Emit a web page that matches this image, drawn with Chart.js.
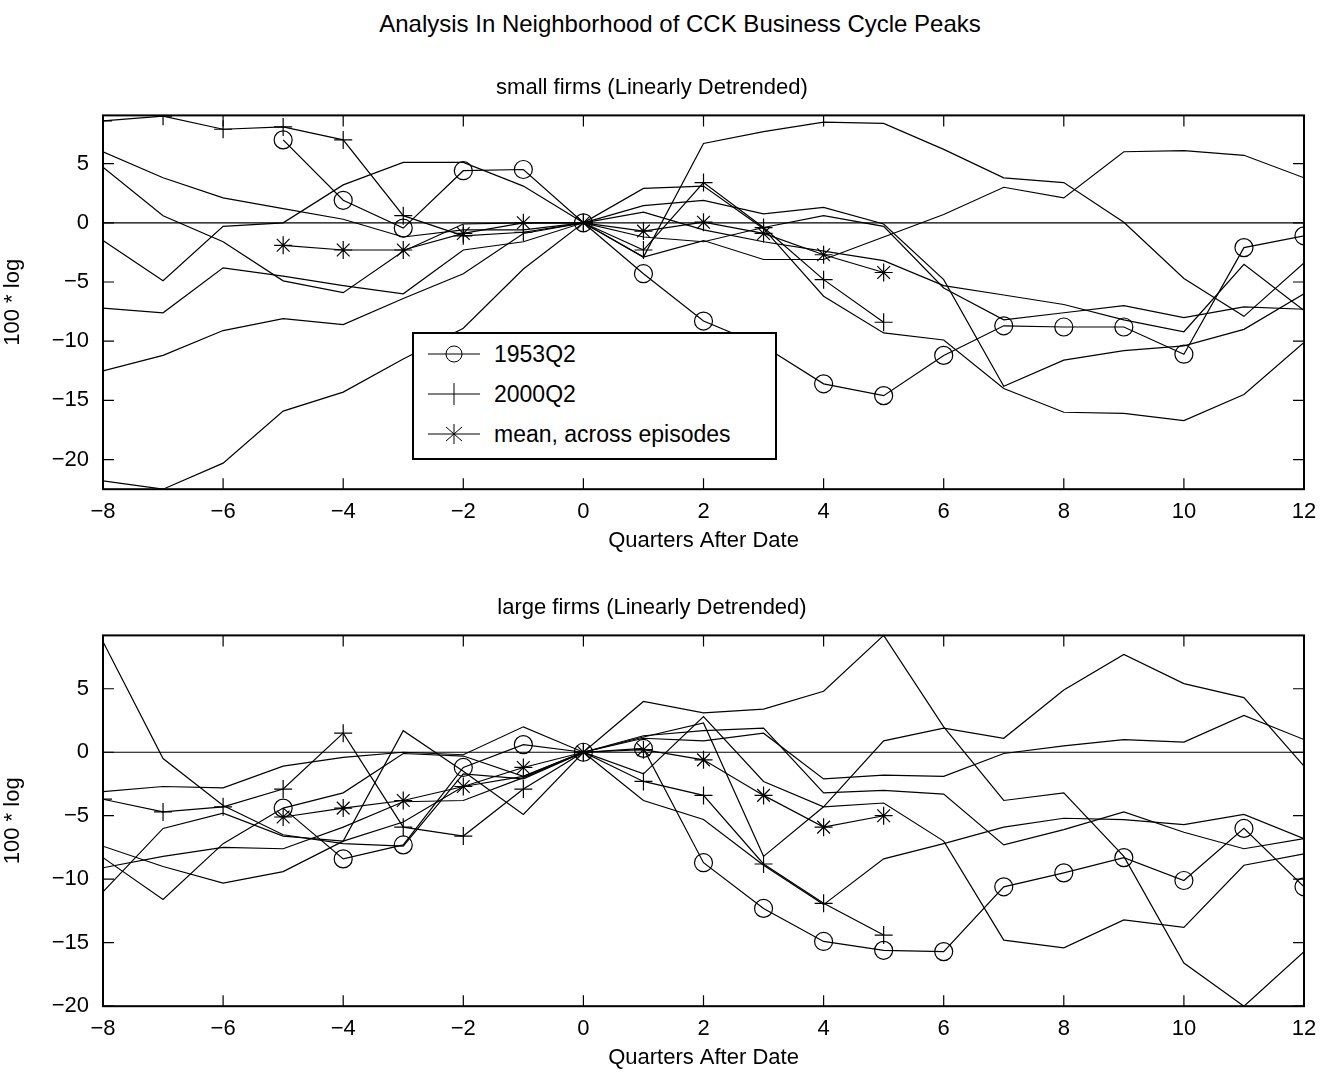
<!DOCTYPE html>
<html><head><meta charset="utf-8">
<script src="https://cdn.jsdelivr.net/npm/chart.js@4"></script>
<style>
body{margin:0;background:#fff;font-family:"Liberation Sans",Arial,sans-serif;}
#title{position:absolute;left:0;top:10px;width:1360px;text-align:center;font-size:24px;}
.cw{position:absolute;left:0;width:1326px;}
.legend{position:absolute;left:412px;top:332px;width:361px;height:124px;border:2px solid #000;background:#fff;font-size:23px;}
.legend div{height:40px;line-height:40px;display:flex;align-items:center;}
</style></head><body>
<div id="title">Analysis In Neighborhood of CCK Business Cycle Peaks</div>
<div class="cw" style="top:71px;height:483px"><canvas id="c1"></canvas></div>
<div class="cw" style="top:591px;height:480px"><canvas id="c2"></canvas></div>
<div class="legend">
 <div><svg width="80" height="30"><line x1="14" y1="15" x2="66" y2="15" stroke="#000"/><circle cx="40" cy="15" r="8" fill="none" stroke="#000"/></svg>1953Q2</div>
 <div><svg width="80" height="30"><line x1="14" y1="15" x2="66" y2="15" stroke="#000"/><line x1="40" y1="4" x2="40" y2="26" stroke="#000"/></svg>2000Q2</div>
 <div><svg width="80" height="30"><line x1="14" y1="15" x2="66" y2="15" stroke="#000"/><line x1="40" y1="5" x2="40" y2="25" stroke="#000"/><line x1="32" y1="8" x2="48" y2="22" stroke="#000"/><line x1="48" y1="8" x2="32" y2="22" stroke="#000"/></svg>mean, across episodes</div>
</div>
<script>
const quarters=[-8,-7,-6,-5,-4,-3,-2,-1,0,1,2,3,4,5,6,7,8,9,10,11,12];
const xTicks=[-8,-6,-4,-2,0,2,4,6,8,10,12];
const yTicksTop=[-20,-15,-10,-5,0,5];
const yTicksBot=[-20,-15,-10,-5,0,5];
const N=null;
// small firms
const small1953=[N,N,N,7.0,1.9,-0.45,4.4,4.5,0,-4.3,-8.3,-10.4,-13.6,-14.6,-11.2,-8.7,-8.8,-8.8,-11.1,-2.1,-1.1];
const small2000=[8.6,9.0,7.9,8.1,7.0,0.6,-1.1,-0.8,0,-2.3,3.4,-0.4,-4.8,-8.4,N,N,N,N,N,N,N];
const smallMean=[N,N,N,-1.9,-2.3,-2.3,-0.9,0.0,0,-0.7,0.05,-0.9,-2.7,-4.2,N,N,N,N,N,N,N];
const smallE1=[6.0,3.8,2.1,1.2,0.3,-1.2,-0.6,-0.6,0,1.45,1.9,0.75,1.3,-0.1,-4.8,-13.8,-11.6,-10.8,-10.4,-9.0,-6.0];
const smallE2=[4.7,0.6,-1.6,-4.9,-5.9,-2.4,-0.1,0,0,2.9,3.1,-0.5,-6.2,-9.3,-9.9,-14.0,-16.0,-16.1,-16.7,-14.5,-10.1];
const smallE3=[-1.5,-4.9,-0.3,0,3.2,5.1,5.1,3.1,0,-2.9,6.7,7.7,8.5,8.4,6.2,3.8,3.4,0.05,-4.7,-7.9,-3.4];
const smallE4=[-7.2,-7.6,-3.8,-4.5,-5.3,-6.0,-2.3,-1.6,0,-2.9,-1.5,-3.1,-3.1,-1.2,0.7,3.0,2.1,6.0,6.1,5.7,3.8];
const smallE5=[-12.5,-11.2,-9.1,-8.1,-8.6,-6.4,-4.3,-0.9,0,0.9,-0.6,-1.6,-2.4,-3.2,-5.3,-6.1,-6.9,-8.2,-9.2,-3.5,-7.4];
const smallE6=[-21.8,-22.5,-20.3,-15.9,-14.3,-11.5,-8.9,-3.9,0,-1.2,-1.6,-0.4,0.6,-0.3,-5.5,-8.2,-7.6,-7.0,-8.0,-7.1,-7.3];
// large firms
const large1953=[N,N,N,-4.4,-8.4,-7.3,-1.2,0.6,0,0.3,-8.7,-12.3,-14.9,-15.6,-15.7,-10.6,-9.5,-8.3,-10.1,-6.0,-10.6];
const large2000=[-3.7,-4.7,-4.3,-2.9,1.5,-5.9,-6.6,-2.9,0,-2.3,-3.4,-8.8,-11.9,-14.4,N,N,N,N,N,N,N];
const largeMean=[N,N,N,-5.1,-4.4,-3.8,-2.7,-1.2,0,0.2,-0.6,-3.4,-5.9,-5.0,N,N,N,N,N,N,N];
const largeE1=[8.7,-0.5,-4.2,-6.5,-7.2,-7.4,-1.7,-2.1,0,4.0,3.1,3.4,4.8,9.2,2.0,-3.8,-3.2,-8.2,-16.6,-20.0,-15.7];
const largeE2=[-3.1,-2.7,-2.8,-1.1,-0.4,0,-0.2,2.0,0,1.3,1.7,1.9,-3.2,-3.0,-3.3,-7.3,-6.1,-4.7,-6.3,-7.6,-6.8];
const largeE3=[-11.0,-6.0,-4.8,-6.6,-7.0,1.7,-1.5,-4.9,0,1.1,0.9,1.5,-2.1,-1.8,-1.9,-0.1,0.5,1.0,0.8,2.9,1.0];
const largeE4=[-7.4,-9.0,-10.3,-9.4,-7.0,-5.5,-2.7,-1.9,0,-1.7,2.8,-2.3,-4.3,-4.0,-7.0,-14.8,-15.4,-13.2,-13.8,-8.9,-8.0];
const largeE5=[-8.3,-11.6,-7.2,-4.4,-3.2,-0.1,-0.3,-1.9,0,-3.8,-5.3,-8.9,-12.0,-8.4,-7.2,-5.9,-5.2,-5.3,-5.7,-4.9,-6.8];
const largeE6=[-9.1,-8.2,-7.5,-7.6,-5.9,-3.9,-3.8,-2.0,0,1.2,2.3,-8.2,-4.3,0.9,1.9,1.1,4.9,7.7,5.4,4.3,-1.1];

const pts=a=>quarters.map((q,i)=>({x:q,y:a[i]}));
function ds(a,style){return {data:pts(a),borderColor:'#000',borderWidth:1.2,pointStyle:style||false,pointRadius:style?9:0,pointBorderColor:'#000',pointBackgroundColor:'rgba(0,0,0,0)',pointBorderWidth:1.2,spanGaps:false,tension:0};}
const frame={id:'frame',afterDraw(c){const a=c.chartArea,x=c.ctx,xs=c.scales.x,ys=c.scales.y;x.save();x.strokeStyle='#000';x.lineWidth=2;x.strokeRect(a.left,a.top,a.right-a.left,a.bottom-a.top);x.lineWidth=1.2;
 xTicks.forEach(t=>{const p=xs.getPixelForValue(t);x.beginPath();x.moveTo(p,a.bottom);x.lineTo(p,a.bottom-11);x.moveTo(p,a.top);x.lineTo(p,a.top+11);x.stroke();});
 ys.ticks.forEach(t=>{const p=ys.getPixelForValue(t.value);x.beginPath();x.moveTo(a.left,p);x.lineTo(a.left+11,p);x.moveTo(a.right,p);x.lineTo(a.right-11,p);x.stroke();});
 x.restore();}};
function make(id,sub,series,ymin,ymax,yt){
 const sets=[ds(series[0],'circle'),ds(series[1],'cross'),ds(series[2],'star')];
 for(let i=3;i<series.length;i++)sets.push(ds(series[i]));
 sets.push({data:[{x:quarters[0],y:0},{x:quarters[quarters.length-1],y:0}],borderColor:'#000',borderWidth:1.2,pointRadius:0});
 new Chart(document.getElementById(id),{type:'line',data:{datasets:sets},plugins:[frame],
 options:{responsive:true,maintainAspectRatio:false,animation:false,
 layout:{padding:{left:0,right:22,top:0,bottom:0}},
 plugins:{legend:{display:false},tooltip:{enabled:false},title:{display:true,text:sub,color:'#000',font:{size:22,family:'Liberation Sans',weight:'normal'},padding:{top:4,bottom:14}}},
 scales:{x:{type:'linear',min:-8,max:12,afterBuildTicks:s=>{s.ticks=xTicks.map(v=>({value:v}));},
   ticks:{color:'#000',font:{size:22,family:'Liberation Sans'},padding:2,maxRotation:0,callback:v=>String(v).replace('-','\u2212')},
   grid:{display:false},border:{display:false},
   title:{display:true,text:'Quarters After Date',color:'#000',font:{size:22,family:'Liberation Sans'},padding:{top:0,bottom:0}}},
  y:{min:ymin,max:ymax,afterBuildTicks:s=>{s.ticks=yt.map(v=>({value:v}));},afterFit:s=>{s.width=103;},
   ticks:{color:'#000',font:{size:22,family:'Liberation Sans'},padding:6,callback:v=>String(v).replace('-','\u2212')},
   grid:{display:false},border:{display:false},
   title:{display:true,text:'100 * log',color:'#000',font:{size:22,family:'Liberation Sans'},padding:{top:0,bottom:2}}}}}});
}
make('c1','small firms (Linearly Detrended)',[small1953,small2000,smallMean,smallE1,smallE2,smallE3,smallE4,smallE5,smallE6],-22.5,9.07,yTicksTop);
make('c2','large firms (Linearly Detrended)',[large1953,large2000,largeMean,largeE1,largeE2,largeE3,largeE4,largeE5,largeE6],-20,9.2,yTicksBot);
</script></body></html>
